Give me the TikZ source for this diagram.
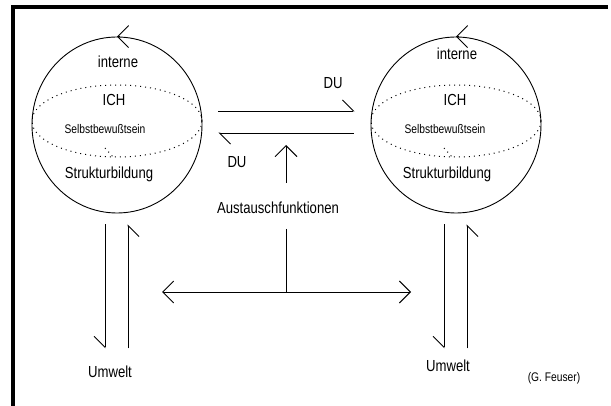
\documentclass[tikz,border=0pt]{standalone}
\usepackage{fontspec}
\setmainfont{Liberation Sans}[FakeStretch=0.82]
\usetikzlibrary{arrows.meta,positioning,calc,shapes.geometric}

\begin{document}
\begin{tikzpicture}[x=1pt, y=-1pt,
  ichkugel/.style={ellipse, draw, line width=0.9pt, minimum width=170pt, minimum height=176pt, inner sep=0pt},
  lbl/.style={font=\fontsize{16}{19}\selectfont, inner sep=0pt},
  klein/.style={font=\fontsize{12.5}{15}\selectfont, inner sep=0pt},
  aequator/.style={line width=1pt, dash pattern=on 1pt off 4pt},
  pfeil/.style={-{Straight Barb[length=11pt,width=22pt]}, line width=0.9pt},
  doppelpfeil/.style={{Straight Barb[length=11pt,width=22pt]}-{Straight Barb[length=11pt,width=22pt]}, line width=0.9pt},
  halbL/.style={-{Straight Barb[left,length=11pt,width=22pt]}, line width=0.9pt},
  halbR/.style={-{Straight Barb[right,length=11pt,width=22pt]}, line width=0.9pt}]
  \useasboundingbox (0,0) rectangle (611,406);
  \draw[line width=3.8pt] (13,406) -- (13,7) -- (608,7);

  % linke Kugel
  \node (kugelL) [ichkugel] at (117,125) {};
  \node (interneL) [lbl] at (118,62) {interne};
  \node (ichL) [lbl] at (114,100) {ICH};
  \node (selbstL) [klein] at (105,129) {Selbstbewußtsein};
  \node (strukL) [lbl] at (109,174) {Strukturbildung};
  \draw[aequator] ($(kugelL.center)+(0,-4)$) ellipse [x radius=85, y radius=36];
  \draw[aequator] ($(kugelL.center)+(-12,23)$) -- ($(kugelL.center)+(-3,33)$);
  \draw[pfeil] ($(kugelL.north)+(3,0)$) -- (kugelL.north);

  % rechte Kugel
  \node (kugelR) [ichkugel] at (456,125) {};
  \node (interneR) [lbl] at (457,54) {interne};
  \node (ichR) [lbl] at (455,100) {ICH};
  \node (selbstR) [klein] at (445,129) {Selbstbewußtsein};
  \node (strukR) [lbl] at (447,174) {Strukturbildung};
  \draw[aequator] ($(kugelR.center)+(0,-4)$) ellipse [x radius=85, y radius=36];
  \draw[aequator] ($(kugelR.center)+(-12,23)$) -- ($(kugelR.center)+(-3,33)$);
  \draw[pfeil] ($(kugelR.north)+(3,0)$) -- (kugelR.north);

  % DU
  \draw[halbL] ($(kugelL.east)+(16,-14)$) -- ($(kugelR.west)+(-16,-14)$);
  \draw[halbL] ($(kugelR.west)+(-17,8)$) -- ($(kugelL.east)+(16,8)$);
  \node (duOben) [lbl] at (333,83) {DU};
  \node (duUnten) [lbl] at (237,162) {DU};

  % Umwelt
  \draw[halbR] ($(kugelL.south)+(-12,11)$) -- ($(kugelL.south)+(-12,135)$);
  \draw[halbR] ($(kugelL.south)+(11,135)$) -- ($(kugelL.south)+(11,11)$);
  \draw[halbR] ($(kugelR.south)+(-12,11)$) -- ($(kugelR.south)+(-12,135)$);
  \draw[halbR] ($(kugelR.south)+(11,135)$) -- ($(kugelR.south)+(11,11)$);
  \node (umweltL) [lbl] at (110,372) {Umwelt};
  \node (umweltR) [lbl] at (448,366) {Umwelt};

  % Austauschfunktionen
  \node (austausch) [lbl] at (278,208) {Austauschfunktionen};
  \coordinate (aFuss) at (286,183);
  \coordinate (aSpitze) at (286,145);
  \coordinate (tOben) at (286,229);
  \coordinate (tUnten) at (286,292);
  \coordinate (xLinks) at (162,292);
  \coordinate (xRechts) at (411,292);
  \draw[pfeil] (aFuss) -- (aSpitze);
  \draw[line width=0.9pt] (tOben) -- (tUnten);
  \draw[doppelpfeil] (xLinks) -- (xRechts);

  \node (feuser) [klein] at (554,378) {(G. Feuser)};
\end{tikzpicture}
\end{document}
